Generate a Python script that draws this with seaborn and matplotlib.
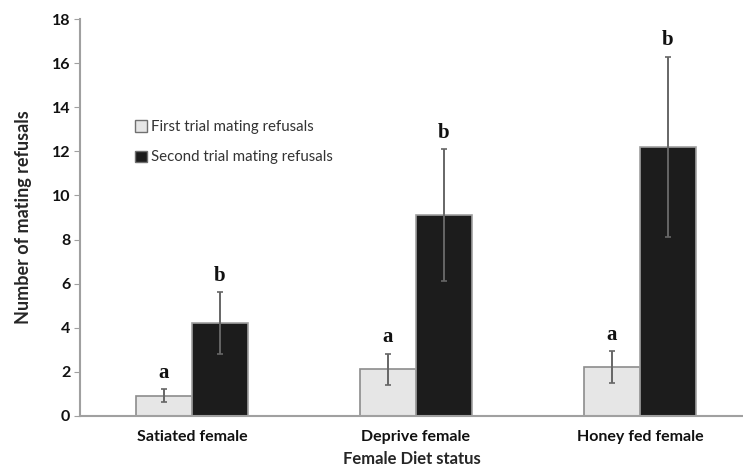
import matplotlib
matplotlib.use('Agg')
import matplotlib.pyplot as plt
from matplotlib.patches import Patch
import seaborn as sns
import pandas as pd

diets = ['Satiated female', 'Deprive female', 'Honey fed female']
trials = ['First trial mating refusals', 'Second trial mating refusals']
first_mean = [0.9, 2.1, 2.2]
first_err = [0.3, 0.7, 0.72]
second_mean = [4.2, 9.1, 12.2]
second_err = [1.4, 3.0, 4.1]
first_letters = ['a', 'a', 'a']
second_letters = ['b', 'b', 'b']

df = pd.DataFrame({
    'diet': diets * 2,
    'trial': [trials[0]] * 3 + [trials[1]] * 3,
    'value': first_mean + second_mean,
})

sns.set_style('white')
plt.rcParams['font.family'] = ['Lato', 'DejaVu Sans']

fig = plt.figure(figsize=(7.43, 4.68), dpi=100)
ax = fig.add_axes([0.1077, 0.1118, 0.8923, 0.847])

colors = ['#e6e6e6', '#1c1c1c']
sns.barplot(data=df, x='diet', y='value', hue='trial', order=diets, hue_order=trials,
            palette=colors, width=0.5, gap=0, errorbar=None, legend=False, ax=ax,
            saturation=1)

# outlines, error bars and significance letters
errs = [first_err, second_err]
means = [first_mean, second_mean]
letters = [first_letters, second_letters]
edge = ['#8c8c8c', '#a0a0a0']
bar_groups = list(ax.containers)
for k, cont in enumerate(bar_groups):
    for i, bar in enumerate(cont):
        bar.set_edgecolor(edge[k])
        bar.set_linewidth(1.2)
        xc = bar.get_x() + bar.get_width() / 2
        ax.errorbar(xc, means[k][i], yerr=errs[k][i], color='#666666',
                    elinewidth=1.4, capsize=2, capthick=1.2, zorder=5)
        ax.text(xc, means[k][i] + errs[k][i] + 0.3, letters[k][i], ha='center', va='bottom',
                fontsize=15, fontweight='bold', family='Liberation Serif', color='#111111')

ax.set_ylim(0, 18)
ax.set_xlim(-0.5, 2.46)
ax.set_yticks(range(0, 19, 2))
ax.set_xticks([0.5, 1.5], minor=True)
ax.tick_params(axis='x', which='major', length=0, pad=10)
ax.tick_params(axis='x', which='minor', length=4, color='#a0a0a0', direction='out')
ax.tick_params(axis='y', length=4, color='#a0a0a0', direction='out', left=True, pad=3)
for lab in ax.get_xticklabels() + ax.get_yticklabels():
    lab.set_fontweight('bold')
    lab.set_fontsize(11.5)
    lab.set_color('#111111')

for s in ['top', 'right']:
    ax.spines[s].set_visible(False)
for s in ['left', 'bottom']:
    ax.spines[s].set_color('#a0a0a0')
    ax.spines[s].set_linewidth(1.5)

ax.set_xlabel('Female Diet status', fontsize=12, fontweight='bold', labelpad=5)
ax.set_ylabel('Number of mating refusals', fontsize=13, fontweight='bold', labelpad=14)

handles = [Patch(facecolor=colors[0], edgecolor='#707070'),
           Patch(facecolor=colors[1], edgecolor='#707070')]
ax.legend(handles, trials, loc='upper left', bbox_to_anchor=(0.062, 0.78), frameon=False,
          handlelength=0.8, handleheight=0.8, handletextpad=0.3, labelspacing=1.1,
          prop={'family': 'Lato', 'size': 10.8}, labelcolor='#333333')

fig.savefig('out.png', dpi=100)
